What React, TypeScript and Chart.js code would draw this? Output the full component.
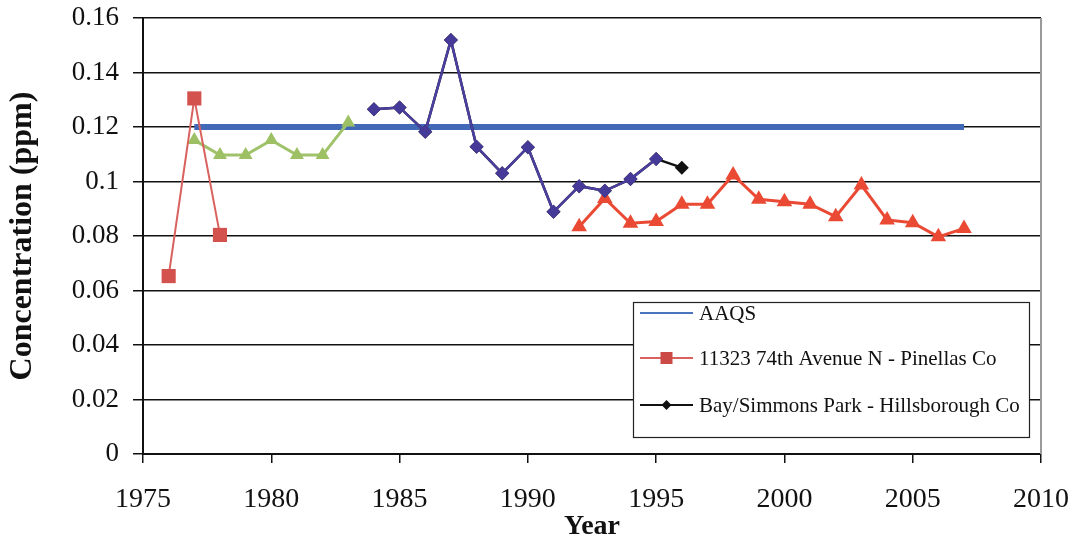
import React, { useEffect, useRef } from 'react';
import { Chart, registerables } from 'chart.js';

Chart.register(...registerables);

// ---- Data ----
const AAQS_YEARS = [1977, 2007];
const AAQS_VALUES = [0.12, 0.12];

const PINELLAS_EARLY_YEARS = [1976, 1977, 1978];
const PINELLAS_EARLY_VALUES = [0.0653, 0.1305, 0.0804];

const GREEN_YEARS = [1977, 1978, 1979, 1980, 1981, 1982, 1983];
const GREEN_VALUES = [0.1152, 0.1097, 0.1097, 0.1152, 0.1097, 0.1097, 0.1217];

const HILLS_YEARS = [1984, 1985, 1986, 1987, 1988, 1989, 1990, 1991, 1992, 1993, 1994, 1995, 1996];
const HILLS_VALUES = [0.1265, 0.1272, 0.1183, 0.1519, 0.1128, 0.103, 0.1126, 0.0889, 0.0983, 0.0966, 0.1009, 0.1083, 0.1051];

const PURPLE_YEARS = [1984, 1985, 1986, 1987, 1988, 1989, 1990, 1991, 1992, 1993, 1994, 1995];
const PURPLE_VALUES = [0.1265, 0.1272, 0.1183, 0.1519, 0.1128, 0.103, 0.1126, 0.0889, 0.0983, 0.0966, 0.1009, 0.1083];

const PINELLAS_LATE_YEARS = [1992, 1993, 1994, 1995, 1996, 1997, 1998, 1999, 2000, 2001, 2002, 2003, 2004, 2005, 2006, 2007];
const PINELLAS_LATE_VALUES = [0.0834, 0.0938, 0.0847, 0.0853, 0.0917, 0.0917, 0.1024, 0.0935, 0.0926, 0.0917, 0.0871, 0.0987, 0.0859, 0.0849, 0.0797, 0.0828];

const LEGEND_LABELS = ['AAQS', '11323 74th Avenue N - Pinellas Co', 'Bay/Simmons Park - Hillsborough Co'];
const X_TITLE = 'Year';
const Y_TITLE = 'Concentration (ppm)';

const toPoints = (xs: number[], ys: number[]) => xs.map((x, i) => ({ x, y: ys[i] }));

const SERIF = '"Liberation Serif", "Times New Roman", serif';

const legendPlugin = {
  id: 'boxLegend',
  afterDraw(chart: any) {
    const ctx = chart.ctx as CanvasRenderingContext2D;
    const x0 = 633, y0 = 302, w = 396, h = 135;
    ctx.save();
    ctx.fillStyle = '#ffffff';
    ctx.fillRect(x0, y0, w, h);
    ctx.strokeStyle = '#222';
    ctx.lineWidth = 1.2;
    ctx.strokeRect(x0 + 0.5, y0 + 0.5, w, h);
    const rows = [313, 358, 405];
    const entries = chart.data.datasets.filter((d: any) => d.legendIndex !== undefined)
      .sort((a: any, b: any) => a.legendIndex - b.legendIndex);
    entries.forEach((d: any, i: number) => {
      const y = rows[i];
      ctx.strokeStyle = d.legendLine;
      ctx.lineWidth = 2;
      ctx.beginPath();
      ctx.moveTo(640, y);
      ctx.lineTo(693, y);
      ctx.stroke();
      const cx = 666.5;
      ctx.fillStyle = d.legendMarker;
      if (d.legendShape === 'rect') {
        ctx.fillRect(cx - 6, y - 6, 12, 12);
      } else if (d.legendShape === 'diamond') {
        ctx.beginPath();
        ctx.moveTo(cx, y - 5);
        ctx.lineTo(cx + 5, y);
        ctx.lineTo(cx, y + 5);
        ctx.lineTo(cx - 5, y);
        ctx.closePath();
        ctx.fill();
      }
      ctx.fillStyle = '#111';
      ctx.font = '21px ' + SERIF;
      ctx.textBaseline = 'middle';
      ctx.textAlign = 'left';
      ctx.fillText(d.label, 699, y + 1);
    });
    ctx.restore();
  },
};

const borderPlugin = {
  id: 'rightBorder',
  beforeDatasetsDraw(chart: any) {
    const { right, top, bottom } = chart.chartArea;
    const ctx = chart.ctx as CanvasRenderingContext2D;
    ctx.save();
    ctx.strokeStyle = '#9a9a9a';
    ctx.lineWidth = 2;
    ctx.beginPath();
    ctx.moveTo(right, top);
    ctx.lineTo(right, bottom);
    ctx.stroke();
    ctx.restore();
  },
};

export default function App() {
  const canvasRef = useRef<HTMLCanvasElement | null>(null);

  useEffect(() => {
    document.body.style.margin = '0';
    const canvas = canvasRef.current;
    if (!canvas) return;
    const chart = new Chart(canvas, {
      type: 'line',
      data: {
        datasets: [
          {
            label: LEGEND_LABELS[1],
            data: toPoints(PINELLAS_EARLY_YEARS, PINELLAS_EARLY_VALUES),
            borderColor: '#d9625e',
            backgroundColor: '#d4524e',
            borderWidth: 2,
            pointStyle: 'rect',
            pointRadius: 10,
            pointBorderWidth: 0,
            legendIndex: 1,
            legendLine: '#d9625e',
            legendMarker: '#cc4a46',
            legendShape: 'rect',
          } as any,
          {
            label: 'purple',
            data: toPoints(PURPLE_YEARS, PURPLE_VALUES),
            borderColor: '#4a3f9e',
            backgroundColor: '#463a98',
            borderWidth: 2.5,
            pointStyle: 'rectRot',
            pointRadius: 7,
            pointBorderWidth: 0,
          },
          {
            label: LEGEND_LABELS[2],
            data: toPoints(HILLS_YEARS, HILLS_VALUES),
            borderColor: '#111111',
            backgroundColor: '#111111',
            borderWidth: 2.5,
            pointStyle: 'rectRot',
            pointRadius: 7,
            pointBorderWidth: 0,
            legendIndex: 2,
            legendLine: '#111111',
            legendMarker: '#111111',
            legendShape: 'diamond',
          } as any,
          {
            label: 'late',
            data: toPoints(PINELLAS_LATE_YEARS, PINELLAS_LATE_VALUES),
            borderColor: '#ea4a33',
            backgroundColor: '#ea4a33',
            borderWidth: 3,
            pointStyle: 'triangle',
            pointRadius: 9,
            pointBorderWidth: 0,
          },
          {
            label: 'green',
            data: toPoints(GREEN_YEARS, GREEN_VALUES),
            borderColor: '#9fc26a',
            backgroundColor: '#9cc063',
            borderWidth: 3,
            pointStyle: 'triangle',
            pointRadius: 8,
            pointBorderWidth: 0,
          },
          {
            label: LEGEND_LABELS[0],
            data: toPoints(AAQS_YEARS, AAQS_VALUES),
            borderColor: '#4169b8',
            backgroundColor: '#4169b8',
            borderWidth: 6,
            pointRadius: 0,
            legendIndex: 0,
            legendLine: '#4a74c0',
            legendMarker: '#4a74c0',
            legendShape: 'none',
          } as any,
        ],
      },
      options: {
        responsive: false,
        animation: false,
        layout: { padding: { left: 0, right: 38, top: 18, bottom: 0 } },
        plugins: {
          legend: { display: false },
          tooltip: { enabled: false },
        },
        elements: { line: { tension: 0, borderCapStyle: 'butt' } },
        scales: {
          x: {
            type: 'linear',
            min: 1975,
            max: 2010,
            ticks: {
              stepSize: 5,
              color: '#111',
              font: { family: SERIF, size: 28, lineHeight: 2.0 },
              padding: 9,
              maxRotation: 0,
              callback: (v: any) => String(v),
            },
            grid: { display: true, drawOnChartArea: false, drawTicks: true, tickLength: 9, color: '#111', lineWidth: 1.5 },
            border: { display: true, color: '#111', width: 2 },
            title: {
              display: true,
              text: X_TITLE,
              color: '#111',
              font: { family: SERIF, size: 28, weight: 'bold' },
              padding: { top: 0, bottom: 0 },
            },
            afterFit: (scale: any) => { scale.height = 90; },
          },
          y: {
            type: 'linear',
            min: 0,
            max: 0.16,
            ticks: {
              stepSize: 0.02,
              color: '#111',
              font: { family: SERIF, size: 27, lineHeight: 0.3 },
              padding: 14,
              callback: (v: any) => String(Number(Number(v).toFixed(2))),
            },
            grid: { color: '#111', lineWidth: 1.5, tickLength: 10 },
            border: { display: true, color: '#111', width: 2 },
            title: {
              display: true,
              text: Y_TITLE,
              color: '#111',
              font: { family: SERIF, size: 32, weight: 'bold' },
              padding: { top: 4, bottom: 0 },
            },
            afterFit: (scale: any) => { scale.width = 143; },
          },
        },
      },
      plugins: [borderPlugin, legendPlugin],
    } as any);
    return () => chart.destroy();
  }, []);

  return (
    <div style={{ width: 1079, height: 544, background: '#fff' }}>
      <canvas ref={canvasRef} width={1079} height={544} />
    </div>
  );
}
